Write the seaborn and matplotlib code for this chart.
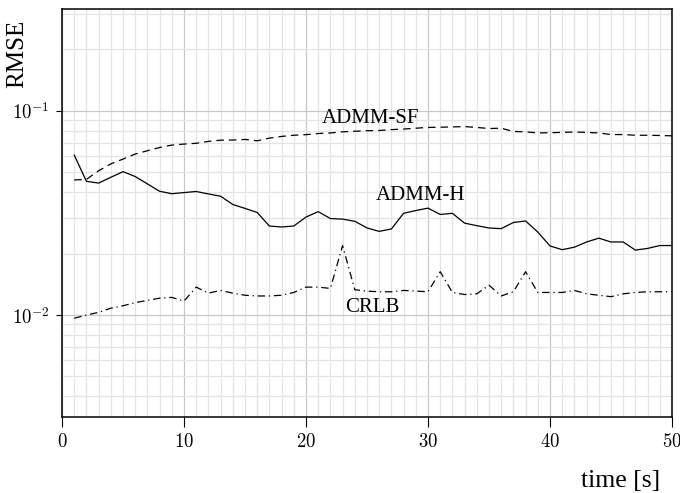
import numpy as np
import pandas as pd
import matplotlib
matplotlib.use("Agg")
import matplotlib.pyplot as plt
import seaborn as sns
from matplotlib.ticker import MultipleLocator, LogLocator, FuncFormatter, NullFormatter

# time steps and RMSE
time_s = np.arange(1, 51)

rmse_admm_sf = [
    0.0459, 0.0462, 0.0509, 0.0550, 0.0581, 0.0615, 0.0638, 0.0662, 0.0680, 0.0688,
    0.0694, 0.0709, 0.0719, 0.0720, 0.0725, 0.0714, 0.0736, 0.0750, 0.0760, 0.0765,
    0.0775, 0.0780, 0.0790, 0.0795, 0.0800, 0.0802, 0.0810, 0.0815, 0.0823, 0.0830,
    0.0832, 0.0835, 0.0838, 0.0830, 0.0820, 0.0823, 0.0793, 0.0790, 0.0780, 0.0782,
    0.0785, 0.0788, 0.0785, 0.0780, 0.0766, 0.0766, 0.0760, 0.0760, 0.0758, 0.0755,
]
rmse_admm_h = [
    0.0608, 0.0452, 0.0443, 0.0473, 0.0504, 0.0477, 0.0439, 0.0404, 0.0393, 0.0398,
    0.0403, 0.0392, 0.0382, 0.0348, 0.0333, 0.0318, 0.0273, 0.0270, 0.0273, 0.0302,
    0.0321, 0.0297, 0.0295, 0.0288, 0.0267, 0.0257, 0.0264, 0.0315, 0.0325, 0.0334,
    0.0311, 0.0315, 0.0282, 0.0274, 0.0267, 0.0265, 0.0284, 0.0289, 0.0255, 0.0218,
    0.0209, 0.0215, 0.0228, 0.0238, 0.0228, 0.0228, 0.0208, 0.0212, 0.0219, 0.0219,
]
rmse_crlb = [
    0.00964, 0.0100, 0.0103, 0.0108, 0.0111, 0.0115, 0.0118, 0.0121, 0.0122, 0.0117,
    0.0137, 0.0128, 0.0132, 0.0128, 0.0125, 0.0124, 0.0124, 0.0125, 0.0129, 0.0137,
    0.0137, 0.0135, 0.0219, 0.0133, 0.0131, 0.0130, 0.0130, 0.0132, 0.0131, 0.0130,
    0.0163, 0.0129, 0.0126, 0.0127, 0.0140, 0.0124, 0.0130, 0.0163, 0.0129, 0.0129,
    0.0129, 0.0132, 0.0127, 0.0125, 0.0123, 0.0127, 0.0129, 0.0130, 0.0130, 0.0130,
]

methods = ["ADMM-SF", "ADMM-H", "CRLB"]
# label anchor points (time, rmse)
label_x = [25.3, 29.4, 25.4]
label_y = [0.092, 0.0385, 0.0109]

df = pd.DataFrame({"t": time_s, "ADMM-SF": rmse_admm_sf,
                   "ADMM-H": rmse_admm_h, "CRLB": rmse_crlb})
df = df.melt(id_vars="t", var_name="method", value_name="rmse")

sns.set_style("ticks")
plt.rcParams["font.family"] = ["Liberation Serif", "DejaVu Serif"]
plt.rcParams["mathtext.fontset"] = "cm"
# plain black text, like the pgfplots original
plt.rcParams["text.color"] = "black"
plt.rcParams["axes.labelcolor"] = "black"
plt.rcParams["xtick.color"] = "black"
plt.rcParams["ytick.color"] = "black"

fig = plt.figure(figsize=(6.8, 4.93), dpi=100)
ax = fig.add_axes([0.0912, 0.154, 0.897, 0.828])

sns.lineplot(
    data=df, x="t", y="rmse", hue="method", style="method",
    palette={m: "black" for m in methods},
    dashes={"ADMM-SF": (6, 4), "ADMM-H": "", "CRLB": (6, 3, 1, 3)},
    linewidth=0.9, legend=False, ax=ax, zorder=3,
)

ax.set_yscale("log")
ax.set_xlim(0, 50)
ax.set_ylim(10 ** -2.5, 10 ** -0.5)

ax.xaxis.set_major_locator(MultipleLocator(10))
ax.xaxis.set_minor_locator(MultipleLocator(1))
ax.xaxis.set_major_formatter(FuncFormatter(lambda v, p: f"${v:g}$"))
ax.yaxis.set_major_locator(LogLocator(base=10, numticks=10))
ax.yaxis.set_minor_locator(LogLocator(base=10, subs=np.arange(2, 10), numticks=20))
ax.yaxis.set_major_formatter(FuncFormatter(lambda v, p: f"$10^{{{int(round(np.log10(v)))}}}$"))
ax.yaxis.set_minor_formatter(NullFormatter())

ax.grid(which="major", color="#c8c8c8", linewidth=0.9, zorder=0)
ax.grid(which="minor", color="#e4e4e4", linewidth=0.9, zorder=0)
ax.set_axisbelow(True)

ax.tick_params(axis="x", which="major", direction="out", length=7.5, width=0.8,
               labelsize=13.5, color="black", labelcolor="black", pad=4)
ax.tick_params(axis="y", which="major", direction="out", length=4, width=0.8,
               labelsize=13.5, color="black", labelcolor="black", pad=5)
ax.tick_params(which="minor", length=0)

for s in ax.spines.values():
    s.set_color("black")
    s.set_linewidth(1.1)

for name, lx, ly in zip(methods, label_x, label_y):
    ax.text(lx, ly, name, ha="center", va="center", fontsize=15,
            color="black", zorder=4)

ax.set_xlabel("time [s]", fontsize=18.5, color="black")
ax.xaxis.set_label_coords(0.916, -0.13)
ax.set_ylabel("RMSE", fontsize=18, color="black")
ax.yaxis.set_label_coords(-0.056, 0.89)

fig.savefig("out.png", dpi=100)
